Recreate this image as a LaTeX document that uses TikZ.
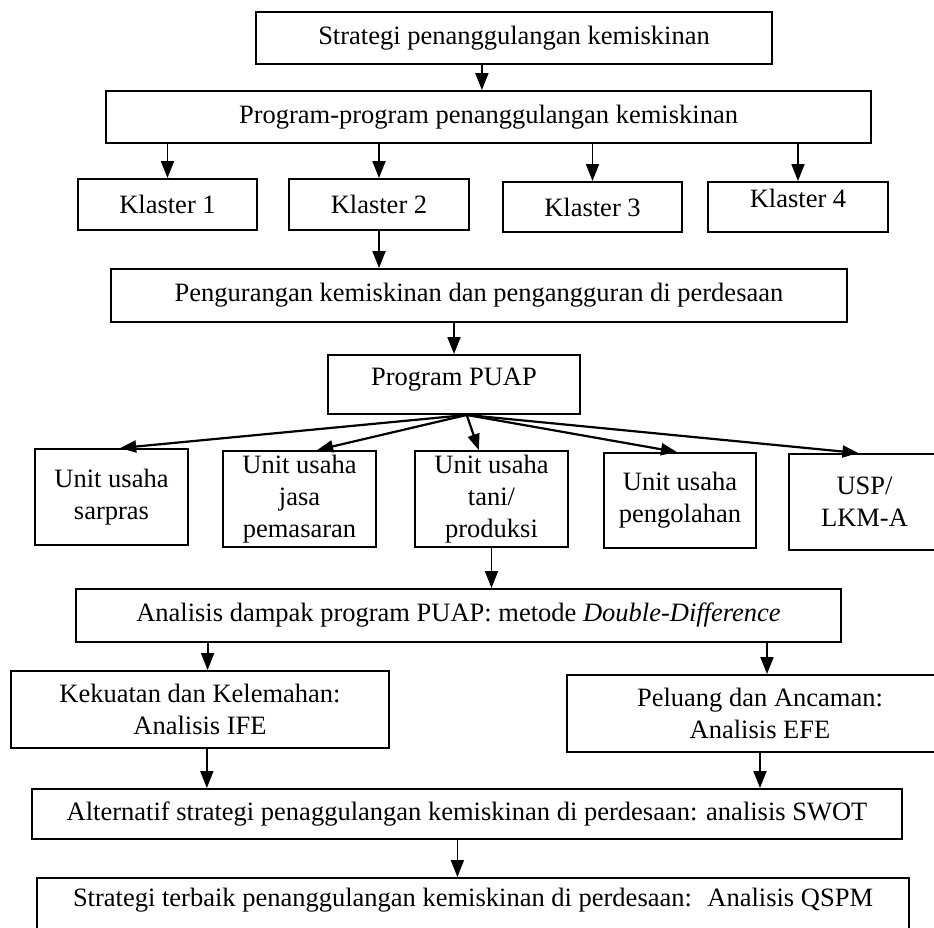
\documentclass[tikz,border=0pt]{standalone}
\usepackage{fontspec}
\setmainfont{Liberation Serif}
\usetikzlibrary{arrows.meta,calc}
\begin{document}
\begin{tikzpicture}[x=1pt,y=-1pt,
  bx/.style={draw, line width=1.9pt, inner sep=0pt, align=center, font=\fontsize{26.5}{32}\selectfont},
  arr/.style={line width=1.8pt, -{Triangle[length=17pt,width=13pt]}},
  fan/.style={line width=2.2pt, -{Triangle[length=16pt,width=12pt]}}]
\useasboundingbox (0,0) rectangle (934,927);

\node[bx, minimum width=516pt, minimum height=52pt] (b1) at (514,38) {Strategi penanggulangan kemiskinan};
\node[bx, minimum width=765pt, minimum height=52pt] (b2) at (488.5,117) {Program-program penanggulangan kemiskinan};
\node[bx, minimum width=179pt, minimum height=51pt] (k1) at (167.5,204.5) {Klaster 1};
\node[bx, minimum width=180pt, minimum height=51pt] (k2) at (379,204.5) {Klaster 2};
\node[bx, minimum width=179pt, minimum height=50pt] (k3) at (592.5,207) {Klaster 3};
\node[bx, minimum width=180pt, minimum height=50pt] (k4) at (798,207) {\raisebox{9pt}[\height][\depth]{Klaster 4}};
\node[bx, minimum width=736pt, minimum height=53pt] (peng) at (479,295.5) {Pengurangan kemiskinan dan pengangguran di perdesaan};
\node[bx, minimum width=252pt, minimum height=59pt] (puap) at (454,384.5) {\raisebox{5pt}[\height][\depth]{Program PUAP}};
\node[bx, minimum width=153pt, minimum height=96pt] (u1) at (111.5,497) {Unit usaha\\sarpras};
\node[bx, minimum width=153pt, minimum height=96pt] (u2) at (299.5,499) {Unit usaha\\jasa\\pemasaran};
\node[bx, minimum width=153pt, minimum height=96pt] (u3) at (491.5,499) {Unit usaha\\tani/\\produksi};
\node[bx, minimum width=152pt, minimum height=95pt] (u4) at (680,500.5) {Unit usaha\\pengolahan};
\node[bx, minimum width=151pt, minimum height=96pt] (u5) at (864.5,502) {USP/\\LKM-A};
\node[bx, minimum width=765pt, minimum height=53pt] (ana) at (458.5,615.5) {Analisis dampak program PUAP: metode \textit{Double-Difference}};
\node[bx, minimum width=378pt, minimum height=77pt] (kek) at (200,709.5) {Kekuatan dan Kelemahan:\\Analisis IFE};
\node[bx, minimum width=386pt, minimum height=77pt] (pel) at (760,713.5) {Peluang dan Ancaman:\\Analisis EFE};
\node[bx, minimum width=870pt, minimum height=50pt] (alt) at (467,814) {Alternatif strategi penaggulangan kemiskinan di perdesaan: analisis SWOT};
\node[bx, minimum width=872pt, minimum height=62pt] (qspm) at (473,909) {\raisebox{9pt}[\height][\depth]{Strategi terbaik penanggulangan kemiskinan di perdesaan:~ Analisis QSPM}};

% vertical connectors
\coordinate (a1) at ($(b1.south west)!0.438!(b1.south east)$);
\draw[arr] (a1) -- (a1 |- b2.north);
\draw[arr] (k1.north |- b2.south) -- (k1.north);
\draw[arr] (k2.north |- b2.south) -- (k2.north);
\draw[arr] (k3.north |- b2.south) -- (k3.north);
\draw[arr] (k4.north |- b2.south) -- (k4.north);
\draw[arr] (k2.south) -- (k2.south |- peng.north);
\draw[arr] (puap.north |- peng.south) -- (puap.north);

% fan from Program PUAP
\coordinate (o) at ($(puap.south west)!0.55!(puap.south east)$);
\draw[fan] (o) -- ($(u1.north west)!0.556!(u1.north east)$);
\draw[fan] (o) -- ($(u2.north west)!0.614!(u2.north east)$);
\draw[fan] (o) -- ($(u3.north west)!0.418!(u3.north east)$);
\draw[fan] (o) -- ($(u4.north west)!0.48!(u4.north east)$);
\draw[fan] (o) -- ($(u5.north west)!0.46!(u5.north east)$);

\draw[arr] (u3.south) -- (u3.south |- ana.north);
\coordinate (a2) at ($(kek.north west)!0.52!(kek.north east)$);
\draw[arr] (a2 |- ana.south) -- (a2);
\coordinate (a3) at ($(pel.north west)!0.518!(pel.north east)$);
\draw[arr] (a3 |- ana.south) -- (a3);
\coordinate (a4) at ($(kek.south west)!0.518!(kek.south east)$);
\draw[arr] (a4) -- (a4 |- alt.north);
\draw[arr] (pel.south) -- (pel.south |- alt.north);
\coordinate (a5) at ($(alt.south west)!0.489!(alt.south east)$);
\draw[arr] (a5) -- (a5 |- qspm.north);
\end{tikzpicture}
\end{document}
